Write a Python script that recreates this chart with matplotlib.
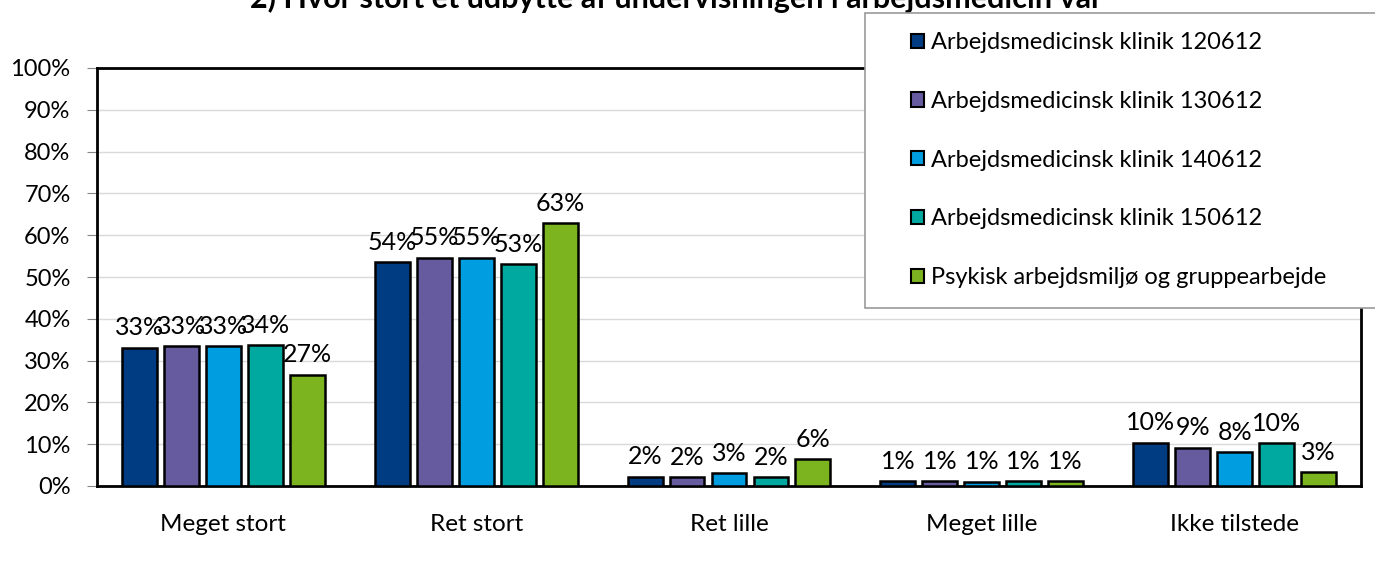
import matplotlib
matplotlib.use("Agg")
import matplotlib.pyplot as plt
from matplotlib.patches import Rectangle
import numpy as np

categories = ["Meget stort", "Ret stort", "Ret lille", "Meget lille", "Ikke tilstede"]
series_names = [
    "Arbejdsmedicinsk klinik 120612",
    "Arbejdsmedicinsk klinik 130612",
    "Arbejdsmedicinsk klinik 140612",
    "Arbejdsmedicinsk klinik 150612",
    "Psykisk arbejdsmiljø og gruppearbejde",
]
values = [
    [33.1, 53.6, 2.2, 1.1, 10.4],
    [33.4, 54.6, 2.1, 1.1, 9.2],
    [33.4, 54.6, 3.1, 1.0, 8.1],
    [33.7, 53.1, 2.1, 1.1, 10.3],
    [26.6, 62.9, 6.4, 1.2, 3.3],
]
colors = ["#003C82", "#675BA0", "#009EE0", "#00A99F", "#7BB41E"]
title = "2) Hvor stort et udbytte af undervisningen i arbejdsmedicin var"

plt.rcParams["font.family"] = ["Lato", "DejaVu Sans"]

W, H = 1375, 566
fig = plt.figure(figsize=(W / 100, H / 100), dpi=100)
ax = fig.add_axes([97/W, 1-486/H, (1361-97)/W, (486-68)/H])

x = np.arange(len(categories))
pitch = 0.166
width = 0.138
n = len(series_names)
for i, (name, vals, c) in enumerate(zip(series_names, values, colors)):
    pos = x + (i - (n - 1) / 2) * pitch
    ax.bar(pos, vals, width=width, color=c, edgecolor="black", linewidth=1.8,
           label=name, zorder=3)
    for p, v in zip(pos, vals):
        ax.annotate(f"{v:.0f}%", (p, v), xytext=(0, 6), textcoords="offset points",
                    ha="center", va="bottom", fontsize=18, zorder=4)

ax.set_ylim(0, 100)
ax.set_xlim(-0.5, len(categories) - 0.5)
ax.set_yticks(np.arange(0, 101, 10))
ax.set_yticklabels([f"{t}%" for t in range(0, 101, 10)], fontsize=17)
ax.set_xticks(x)
ax.set_xticklabels(categories, fontsize=17.5)
ax.tick_params(axis="x", length=0, pad=20)
ax.tick_params(axis="y", length=7, color="#888888", pad=12)
ax.yaxis.grid(True, color="#d9d9d9", linewidth=1, zorder=0)
ax.set_axisbelow(True)
for s in ax.spines.values():
    s.set_linewidth(2)
    s.set_color("black")

fig.text(676/W, 1 + 2/H, title, ha="center", va="center", fontsize=22, fontweight="bold")

# legend frame
frame = Rectangle((865/W, 1-308/H), (1385-865)/W, (308-13)/H, transform=fig.transFigure,
                  facecolor="white", edgecolor="#999999", linewidth=1.2, zorder=9)
fig.add_artist(frame)
leg = fig.legend(loc="upper left", bbox_to_anchor=(911/W, 1-32/H), fontsize=17,
                 frameon=False, handlelength=0.55, handleheight=0.55, handletextpad=0.3,
                 labelspacing=1.6, borderpad=0, borderaxespad=0)
leg.set_zorder(10)
for h in leg.legend_handles:
    h.set_linewidth(1.5)

fig.savefig("out.png", dpi=100)
